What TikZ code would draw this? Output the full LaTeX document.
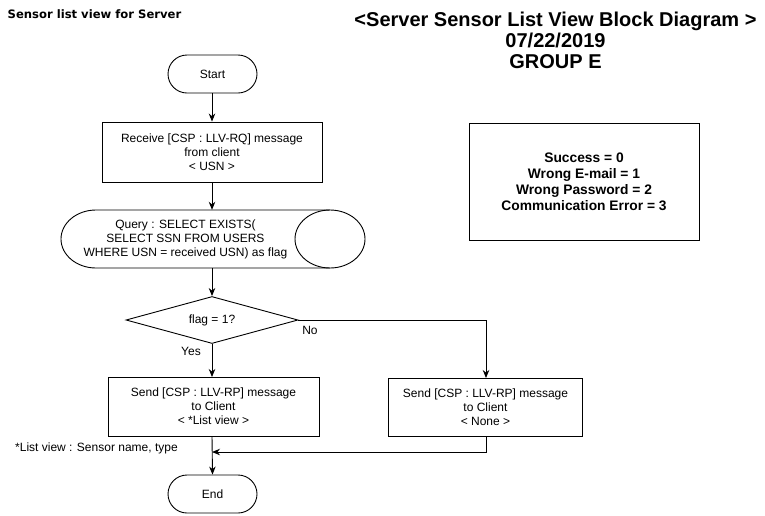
\documentclass[tikz,border=0pt]{standalone}
\usepackage{fontspec}
\setmainfont{Liberation Sans}
\newfontfamily\vfont{DejaVu Sans}
\usetikzlibrary{arrows.meta,shapes.geometric}
\begin{document}
\begin{tikzpicture}[x=1pt,y=-1pt,
  txt/.style={font=\fontsize{12}{14}\selectfont, align=center, inner sep=0pt},
  box/.style={txt, draw, line width=0.9pt},
  term/.style={box, rounded corners=19pt, minimum width=89pt, minimum height=38pt},
  arr/.style={line width=0.9pt, -{Stealth[length=8pt,width=6.5pt]}},
  ln/.style={line width=0.9pt}]
\useasboundingbox (0,0) rectangle (765,515);
% titles
\node[font=\vfont\fontsize{11.6}{14}\selectfont\bfseries, anchor=west, inner sep=0pt] (ttl) at (7.5,14) {Sensor list view for Server};
\node[font=\fontsize{20}{21}\selectfont\bfseries, align=center, inner sep=0pt] (big) at (555.5,40) {<Server Sensor List View Block Diagram >\\07/22/2019\\GROUP E};
% legend
\node[box, font=\fontsize{13.8}{16}\selectfont\bfseries, minimum width=230pt, minimum height=117pt] (leg) at (584,181.5) {Success = 0\\Wrong E-mail = 1\\Wrong Password = 2\\Communication Error = 3};
% flow
\node[term] (start) at (212.5,74) {Start};
\node[box, minimum width=220pt, minimum height=60pt] (recv) at (212,152) {Receive [CSP : LLV-RQ] message\\from client\\< USN >};
% query shape
\node[minimum width=304pt, minimum height=58pt, inner sep=0pt] (q) at (212,239) {};
\draw[ln] (96,210) -- (330,210) arc[start angle=-90, end angle=90, x radius=35, y radius=29] -- (96,268) arc[start angle=90, end angle=270, x radius=35, y radius=29] -- cycle;
\draw[ln] (330,210) arc[start angle=-90, end angle=-270, x radius=35, y radius=29];
\node[txt] (qt) at (185.5,239) {Query : SELECT EXISTS(\\SELECT SSN FROM USERS\\WHERE USN = received USN) as flag};
\node[draw, line width=0.9pt, diamond, aspect=3.66, minimum width=172pt, minimum height=47pt, inner sep=0pt, font=\fontsize{12}{14}\selectfont] (dec) at (212,320) {};
\node[txt] (dect) at (212,320) {flag = 1?};
\node[box, minimum width=211pt, minimum height=59pt] (lbox) at (213.5,406.5) {Send [CSP : LLV-RP] message\\to Client\\< *List view >};
\node[box, minimum width=194pt, minimum height=58pt] (rbox) at (485.5,407) {Send [CSP : LLV-RP] message\\to Client\\< None >};
\node[term] (end) at (212.5,494) {End};
\node[txt, anchor=west] (note) at (15,448) {*List view : Sensor name, type};
\node[txt] (yes) at (191,351) {Yes};
\node[txt] (no) at (310,330) {No};
\coordinate (merge) at (212,452);
% connectors
\draw[arr] (212,93) -- (recv.north);
\draw[arr] (recv.south) -- (q.north);
\draw[arr] (q.south) -- (dec.north);
\draw[arr] (dec.south) -- (212,377);
\draw[arr] (dec.east) -| (486,378);
\draw[arr] (212,436) -- (end.north);
\draw[arr] (486,436) |- (merge);
\end{tikzpicture}
\end{document}
